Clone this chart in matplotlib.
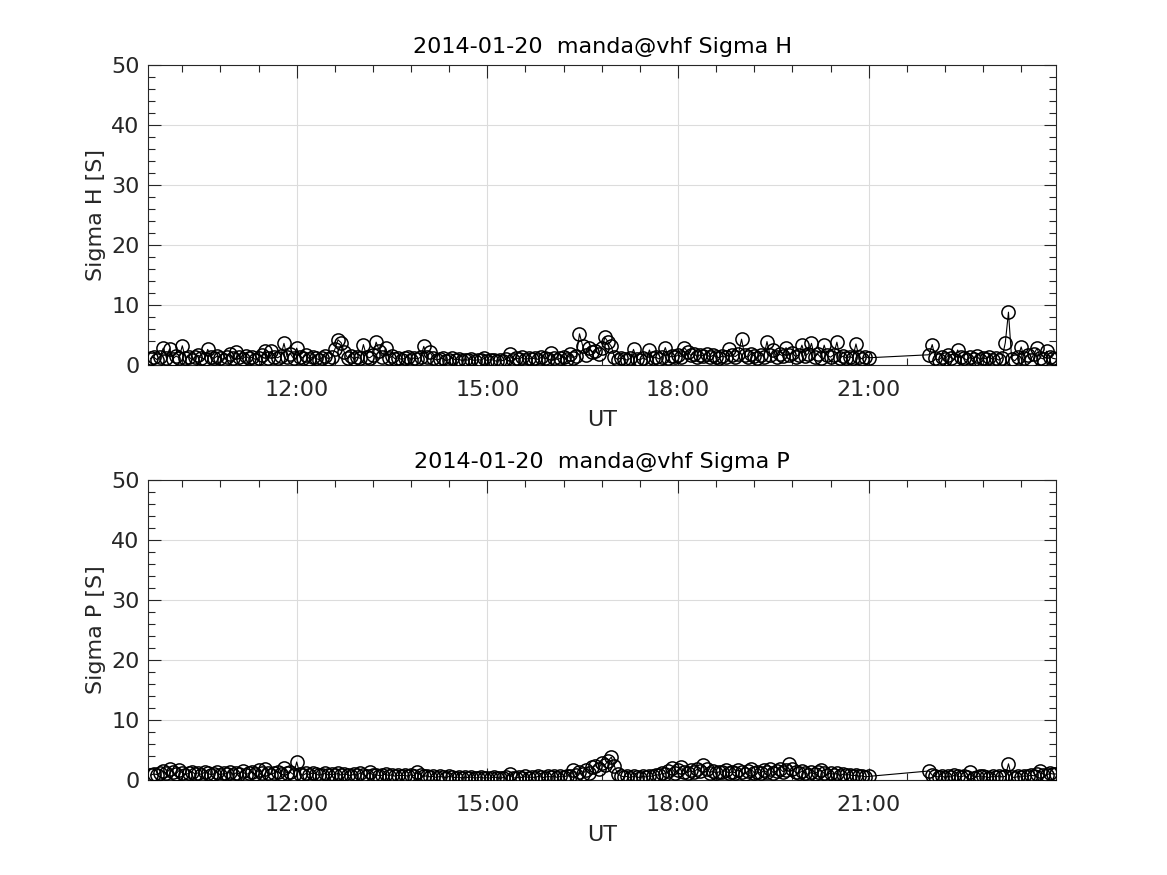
import numpy as np
import matplotlib.pyplot as plt
from matplotlib.ticker import MultipleLocator, FixedLocator, FixedFormatter

# --- DATA (3-minute samples) ---
# day part 1: 09:42 .. 21:00, one row per hour
t_day_start_min = 582
t_day_end_min = 1260
# day part 2: 21:57 .. 23:57
t_late_start_min = 1317
t_late_end_min = 1437
step_min = 3

sigma_h_day = [
    1.1, 1.3, 0.9, 1.4, 2.8, 1.2, 2.7, 1.0, 1.5, 1.2, 3.2, 1.1, 1.4, 0.9, 1.3, 1.6, 1.2, 1.0, 2.6, 1.3,
    1.1, 1.5, 1.2, 0.9, 1.4, 1.8, 1.2, 2.2, 1.3, 1.0, 1.5, 1.1, 1.3, 0.9, 1.2, 1.6, 2.4, 1.1, 2.3, 1.4,
    1.2, 1.5, 3.6, 1.3, 1.9, 1.1, 2.8, 1.4, 1.2, 1.7, 1.0, 1.3, 1.1, 0.9, 1.2, 1.5, 1.0, 1.3, 2.6, 4.2,
    3.7, 2.1, 1.2, 1.5, 1.0, 1.3, 1.1, 3.4, 1.4, 1.2, 1.6, 3.8, 2.4, 1.3, 2.8, 1.1, 1.5, 1.0, 1.2, 0.9,
    1.1, 1.4, 0.9, 1.2, 1.0, 1.3, 3.1, 1.4, 2.1, 1.2, 0.8, 1.0, 1.1, 0.7, 0.9, 1.2, 0.8, 1.0, 0.7, 0.9,
    0.8, 1.0, 0.7, 0.9, 0.8, 1.1, 0.7, 0.9, 0.8, 0.6, 0.9, 0.7, 1.0, 1.8, 0.9, 1.2, 1.0, 1.3, 0.9, 1.1,
    1.0, 1.2, 0.9, 1.3, 1.1, 1.0, 2.0, 1.2, 0.9, 1.1, 1.4, 1.0, 1.8, 1.2, 1.5, 5.2, 3.2, 1.6, 2.9, 2.2,
    2.4, 1.8, 2.8, 4.6, 3.8, 3.1, 1.3, 0.9, 1.2, 1.0, 0.8, 1.1, 2.6, 1.0, 0.8, 1.2, 0.9, 2.5, 1.1, 1.3,
    1.0, 1.4, 2.9, 1.2, 1.5, 1.3, 1.7, 1.4, 2.9, 2.2, 1.6, 1.9, 1.4, 1.7, 1.5, 1.8, 1.3, 1.6, 1.4, 1.2,
    1.5, 1.3, 2.6, 1.7, 1.4, 1.8, 4.3, 1.6, 1.3, 1.9, 1.5, 1.2, 1.7, 1.4, 3.9, 1.6, 2.5, 1.3, 1.8, 1.5,
    2.9, 1.6, 2.0, 1.4, 1.7, 3.3, 1.5, 1.9, 3.6, 1.4, 1.8, 1.2, 3.3, 1.6, 1.3, 1.7, 3.8, 1.2, 1.5, 1.1,
    1.4, 1.2, 3.5, 1.3, 1.0, 1.4, 1.2,
]
sigma_h_late = [
    1.7, 3.4, 1.1, 0.8, 1.3, 1.0, 1.6, 1.2, 0.9, 2.5, 1.4, 1.1, 0.8, 1.3, 1.0, 1.5, 0.9, 1.2, 1.0, 1.4,
    0.9, 1.1, 0.8, 1.2, 3.7, 8.8, 1.0, 0.7, 1.3, 3.0, 1.1, 1.6, 0.9, 1.8, 2.8, 1.2, 1.0, 2.3, 1.4, 1.1,
    1.0,
]

sigma_p_day = [
    0.8, 1.0, 0.9, 1.2, 1.5, 1.1, 1.8, 1.3, 1.0, 1.6, 1.2, 0.9, 1.1, 1.4, 1.0, 1.2, 0.9, 1.3, 1.1, 0.9,
    1.0, 1.3, 0.8, 1.1, 1.0, 1.4, 0.9, 1.2, 1.0, 1.5, 0.9, 1.1, 1.3, 1.0, 1.7, 1.2, 1.9, 1.1, 0.9, 1.2,
    1.4, 1.0, 2.0, 1.1, 1.3, 0.9, 3.0, 1.0, 0.8, 1.1, 0.9, 1.2, 1.0, 0.8, 0.9, 1.1, 0.8, 1.0, 0.9, 1.1,
    0.8, 1.0, 0.9, 0.7, 1.0, 0.8, 1.2, 0.9, 0.7, 1.3, 0.8, 0.9, 0.7, 0.8, 1.0, 0.7, 0.9, 0.6, 0.8, 0.7,
    0.8, 0.6, 0.9, 0.7, 1.3, 0.8, 0.6, 0.7, 0.5, 0.6, 0.4, 0.6, 0.5, 0.4, 0.6, 0.5, 0.4, 0.5, 0.3, 0.5,
    0.4, 0.5, 0.3, 0.4, 0.5, 0.3, 0.4, 0.3, 0.5, 0.4, 0.3, 0.4, 0.5, 1.0, 0.4, 0.3, 0.5, 0.4, 0.6, 0.4,
    0.5, 0.4, 0.6, 0.5, 0.4, 0.6, 0.5, 0.7, 0.4, 0.6, 0.5, 0.7, 0.6, 1.7, 0.8, 1.3, 1.0, 1.6, 1.2, 2.1,
    2.4, 1.8, 2.9, 2.5, 3.2, 3.8, 2.3, 1.0, 0.7, 0.5, 0.6, 0.4, 0.6, 0.5, 0.4, 0.6, 0.5, 0.7, 0.6, 0.9,
    0.8, 1.1, 1.0, 1.5, 2.0, 1.2, 1.7, 2.1, 1.4, 1.2, 1.6, 1.3, 1.8, 1.5, 2.5, 1.9, 1.2, 1.5, 1.1, 1.4,
    1.3, 1.6, 1.1, 1.4, 1.2, 1.7, 1.3, 1.0, 1.5, 1.8, 1.2, 1.4, 1.1, 1.6, 1.3, 1.8, 1.2, 1.5, 1.9, 1.4,
    1.6, 2.7, 1.8, 1.3, 1.1, 1.5, 1.2, 0.9, 1.3, 1.0, 1.4, 1.6, 1.1, 0.8, 1.2, 0.9, 1.1, 0.7, 1.0, 0.8,
    0.9, 0.7, 0.8, 0.6, 0.7, 0.5, 0.6,
]
sigma_p_late = [
    1.5, 0.8, 0.6, 0.5, 0.7, 0.4, 0.6, 0.5, 0.8, 0.6, 0.5, 0.7, 0.5, 1.3, 0.4, 0.5, 0.7, 0.6, 0.5, 0.4,
    0.6, 0.5, 0.7, 0.5, 0.6, 2.7, 0.5, 0.4, 0.6, 0.5, 0.7, 0.6, 0.8, 0.7, 1.0, 1.5, 0.9, 0.8, 1.1, 1.0,
    1.0,
]

title_date = '2014-01-20  manda@vhf'
panel_names = ['Sigma H', 'Sigma P']
x_major = [12, 15, 18, 21]
x_major_labels = ['12:00', '15:00', '18:00', '21:00']

# sample times in hours
t_day = np.arange(t_day_start_min, t_day_end_min + 1, step_min) / 60.0
t_late = np.arange(t_late_start_min, t_late_end_min + 1, step_min) / 60.0
t_all = np.concatenate([t_day, t_late])
series = [np.array(sigma_h_day + sigma_h_late), np.array(sigma_p_day + sigma_p_late)]

TXT = '#262626'
plt.rcParams['font.family'] = 'DejaVu Sans'

fig = plt.figure(figsize=(11.67, 8.75), dpi=100)
positions = [[0.1268, 0.5829, 0.7782, 0.3428],
             [0.1268, 0.1086, 0.7782, 0.3428]]

for pos, name, vals in zip(positions, panel_names, series):
    ax = fig.add_axes(pos)
    ax.plot(t_all, vals, color='k', lw=0.8, marker='o', markersize=9.5,
            markerfacecolor='none', markeredgecolor='k', markeredgewidth=1.1, zorder=3)
    ax.set_xlim(9.66, 23.95)
    ax.set_ylim(0, 50)

    ax.xaxis.set_major_locator(FixedLocator(x_major))
    ax.xaxis.set_major_formatter(FixedFormatter(x_major_labels))
    ax.xaxis.set_minor_locator(MultipleLocator(0.6))
    ax.yaxis.set_major_locator(MultipleLocator(10))
    ax.yaxis.set_minor_locator(MultipleLocator(2))

    ax.tick_params(which='both', direction='in', top=True, right=True,
                   colors=TXT, labelsize=16, width=0.8)
    ax.tick_params(which='major', length=9)
    ax.tick_params(which='minor', length=5)
    ax.tick_params(axis='x', pad=11)
    ax.tick_params(axis='y', pad=6)

    ax.grid(True, which='major', color='#dcdcdc', lw=0.8, zorder=0)
    ax.set_axisbelow(True)
    for sp in ax.spines.values():
        sp.set_color(TXT)
        sp.set_linewidth(0.8)

    ax.set_title(f'{title_date} {name}', fontsize=16, color='k', pad=9)
    ax.set_xlabel('UT', fontsize=16, color=TXT, labelpad=7)
    ax.set_ylabel(f'{name} [S]', fontsize=16, color=TXT, labelpad=4)

fig.savefig('out.png', dpi=100)
